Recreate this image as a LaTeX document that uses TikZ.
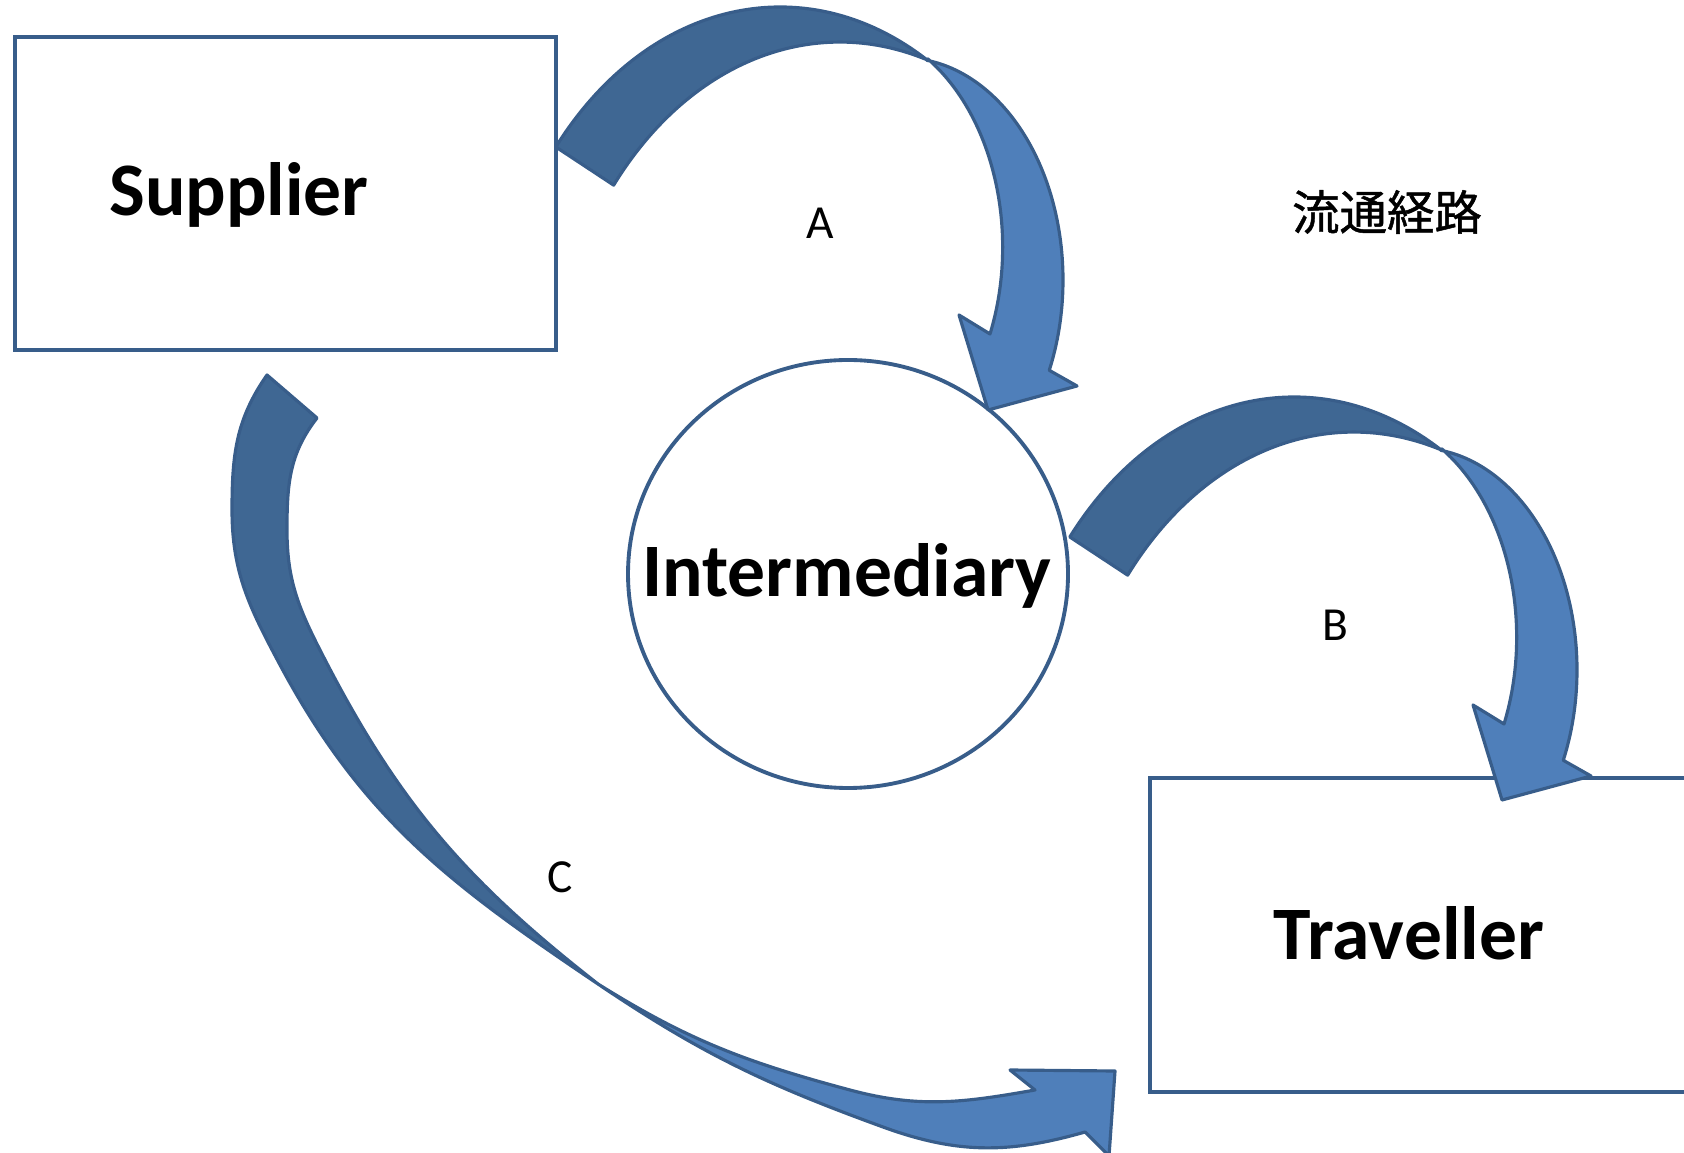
\documentclass[tikz,border=0pt]{standalone}
\usepackage{fontspec}
\setmainfont{Carlito}
\newfontfamily\cjkfont[FakeBold=1]{Noto Sans CJK JP}
\usepackage{xcolor}
\usepackage{tikz}
\usetikzlibrary{shapes.geometric}

\definecolor{edgeblue}{RGB}{56,93,138}
\definecolor{backblue}{RGB}{63,103,147}
\definecolor{frontblue}{RGB}{79,127,186}

\tikzset{
  party/.style={draw=edgeblue, line width=1.1pt, fill=white, inner sep=0pt},
  partyname/.style={font=\fontsize{21.5}{25}\selectfont\bfseries, inner sep=0pt, anchor=base},
  routename/.style={font=\fontsize{13.5}{16}\selectfont, inner sep=0pt},
  backband/.style={fill=backblue, draw=edgeblue, line width=0.9pt, line join=round},
  frontband/.style={fill=frontblue, draw=edgeblue, line width=0.9pt, line join=round},
  backarc/.style={x radius=2.91cm, y radius=3.86cm},
  frontarc/.style={x radius=1.59cm, y radius=2.22cm}
}

\begin{document}
\begin{tikzpicture}
  \useasboundingbox (0,0) rectangle (16.84,11.52);

  \node[party, rectangle, minimum width=5.41cm, minimum height=3.13cm] (supplier) at (2.855,9.585) {};
  \node[party, ellipse, minimum width=4.40cm, minimum height=4.28cm] (intermediary) at (8.48,5.78) {};
  \node[party, rectangle, minimum width=6.5cm, minimum height=3.14cm] (traveller) at (14.75,2.17) {};

  \node[partyname] (suppliername) at (2.39,9.36) {Supplier};
  \node[partyname] (intermediaryname) at (8.47,5.55) {Intermediary};
  \node[partyname] (travellername) at (14.09,1.93) {Traveller};

  \node[routename] (routea) at (8.20,9.29) {A};
  \node[routename] (routeb) at (13.35,5.27) {B};
  \node[routename] (routec) at (5.60,2.75) {C};
  \node[routename, font=\fontsize{13.5}{16}\selectfont\cjkfont] (routetitle) at (13.87,9.40) {流通経路};

  \foreach \dx/\dy in {0/0, 5.14/-3.90} {
    \begin{scope}[shift={(\dx,\dy)}]
      \draw[backband] (7.80,7.59) ++(140.4:2.91 and 3.86) arc[start angle=140.4, end angle=59.7, backarc]
        arc[start angle=72.6, end angle=141, backarc] -- cycle;
      \draw[frontband] (9.04,8.72) ++(81.7:1.59 and 2.22) arc[start angle=81.7, end angle=-24, frontarc]
        -- (10.77,7.66) -- (9.88,7.42) -- (9.59,8.37) -- (9.90,8.18)
        arc[start angle=-23, end angle=58, frontarc] -- cycle;
    \end{scope}
  }

  \draw[backband] (2.67,7.77) to[out=235,in=90] (2.32,6.42) to[out=-90,in=118] (2.79,4.89)
    to[out=-62,in=146] (5.98,1.68) to[out=142,in=-63] (3.20,5.02) to[out=117,in=-90] (2.87,6.22)
    to[out=90,in=232] (3.17,7.34) -- cycle;
  \draw[frontband] (5.98,1.68) to[out=-32,in=165] (8.50,0.62) to[out=-15,in=190] (10.35,0.62)
    -- (10.10,0.82) -- (11.15,0.81) -- (11.09,-0.04) -- (10.85,0.20)
    to[out=196,in=-20] (8.83,0.25) to[out=160,in=-34] (5.98,1.68) -- cycle;
\end{tikzpicture}
\end{document}
